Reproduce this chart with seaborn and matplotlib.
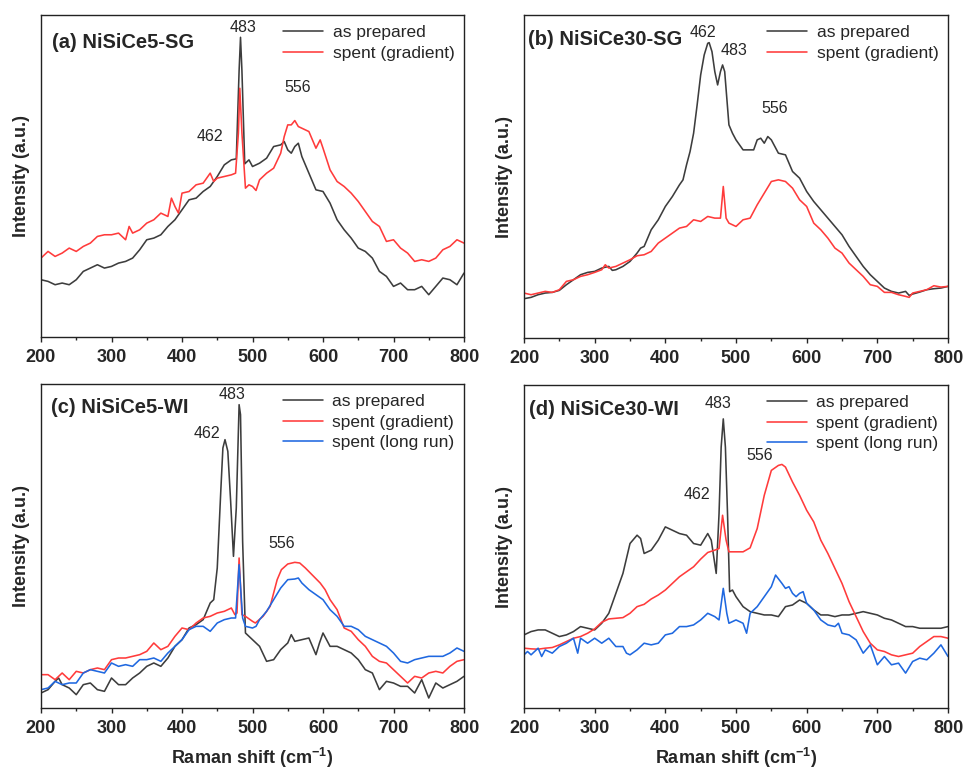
import matplotlib
matplotlib.use("Agg")
import matplotlib.pyplot as plt
import seaborn as sns
import pandas as pd
from matplotlib.ticker import MultipleLocator

# ---------------- data (intensity in arbitrary units) ----------------
# (a) NiSiCe5-SG
a_prep_x = [200,210,220,230,240,250,260,270,280,290,300,310,320,330,340,350,360,370,380,390,400,410,420,430,440,450,460,470,477,481,483,485,489,495,500,510,520,530,540,545,550,555,560,565,570,580,590,600,610,620,630,640,650,660,670,680,690,700,710,720,730,740,750,760,770,780,790,800]
a_prep_y = [172,167,157,162,157,172,197,207,217,207,212,222,227,237,262,292,297,307,332,352,382,412,417,437,452,482,517,532,535,800,900,800,520,532,512,522,537,572,577,587,562,552,572,582,542,492,442,437,402,352,322,297,267,257,237,197,182,152,162,142,142,152,127,152,177,172,157,192]
a_grad_x = [200,205,210,220,230,240,250,260,270,280,290,300,310,320,325,330,340,350,360,370,380,385,390,395,400,410,420,430,440,445,450,460,470,476,480,482,485,490,495,500,505,510,520,530,540,545,550,555,560,565,570,580,590,596,600,610,620,630,640,650,660,670,680,690,700,710,720,730,740,750,760,770,780,790,800]
a_grad_y = [237,247,257,242,252,267,257,272,282,302,307,307,312,292,332,312,322,342,352,372,362,417,392,372,432,437,457,462,492,467,477,482,487,492,612,747,612,447,457,452,440,472,492,507,552,602,637,637,650,632,627,617,567,592,567,502,467,452,432,407,377,347,332,287,292,267,252,227,232,227,237,262,272,292,282]

# (b) NiSiCe30-SG
b_prep_x = [200,210,220,230,240,250,260,270,280,290,300,310,320,325,330,340,350,360,365,370,380,390,400,410,420,425,430,435,440,445,450,455,460,462,466,470,474,478,481,484,487,490,495,500,510,520,525,530,535,540,545,550,560,570,580,590,600,610,620,630,640,650,660,670,680,690,700,710,720,730,740,745,750,760,770,780,790,800]
b_prep_y = [118,122,130,135,137,143,160,175,190,197,200,210,215,203,205,215,230,255,270,275,325,355,395,425,460,475,520,560,615,700,790,850,885,887,860,800,760,800,820,800,720,640,615,595,565,565,565,595,600,585,605,595,555,550,500,480,440,410,385,360,335,310,275,245,215,190,170,150,140,135,140,128,132,138,145,148,150,155]
b_grad_x = [200,210,220,230,240,250,260,270,280,290,300,310,315,320,330,340,350,360,370,380,390,400,410,420,430,440,450,460,470,478,482,486,490,495,500,510,520,530,540,550,560,570,580,590,600,610,620,630,640,650,660,670,680,690,700,710,720,730,740,745,750,760,770,780,790,800]
b_grad_y = [135,130,135,140,137,145,170,175,185,190,197,205,220,210,215,225,235,247,250,260,285,300,315,330,335,355,350,365,360,360,455,360,345,340,335,355,360,400,435,470,475,470,450,415,395,345,325,300,270,255,225,205,185,160,155,137,137,130,125,122,135,140,145,157,153,155]

# (c) NiSiCe5-WI
c_prep_x = [200,210,220,225,230,240,250,260,270,280,290,300,310,320,330,340,350,360,370,380,390,400,410,420,430,440,445,450,455,458,461,465,469,473,477,481,483,486,490,495,500,510,520,530,540,550,555,560,570,580,590,595,600,610,620,630,640,650,660,670,680,690,700,710,720,730,740,750,760,770,780,790,800]
c_prep_y = [45,55,80,90,70,60,40,70,75,55,50,90,70,70,90,105,125,135,125,150,185,205,240,250,265,315,325,420,650,780,805,770,620,455,600,910,880,500,225,215,205,185,140,145,175,195,220,200,205,210,160,195,225,185,185,175,165,145,115,105,55,80,75,65,65,45,85,30,75,60,70,80,95]
c_grad_x = [200,210,220,230,240,250,260,270,280,290,300,310,320,330,340,350,360,370,380,390,400,410,420,430,440,450,460,470,475,478,481,485,490,500,504,515,525,535,541,550,560,567,575,582,596,603,610,620,630,640,650,660,670,680,690,700,710,720,730,740,750,760,770,780,790,800]
c_grad_y = [100,100,85,105,85,110,105,115,120,115,145,150,150,155,160,170,195,175,185,215,240,235,255,270,275,285,290,300,280,285,450,280,275,260,255,275,305,385,415,432,437,435,420,405,375,355,325,295,240,230,205,185,155,140,135,115,95,75,95,90,105,110,105,125,140,145]
c_long_x = [200,210,220,230,240,250,260,270,280,290,300,310,320,330,340,350,360,370,380,390,400,410,420,430,440,450,460,470,476,481,486,490,500,505,510,520,530,540,550,560,565,570,580,590,600,610,620,630,640,650,660,670,680,690,700,710,720,730,740,750,760,770,780,790,800]
c_long_y = [55,60,80,70,75,75,105,115,110,105,135,125,130,125,145,145,150,140,165,185,205,235,245,245,230,255,265,270,270,430,270,245,240,245,265,290,325,360,385,387,390,375,355,340,325,295,275,245,245,235,215,205,195,185,165,140,135,145,150,155,155,155,165,180,170]

# (d) NiSiCe30-WI
d_prep_x = [200,210,220,230,240,250,260,270,280,290,300,310,320,330,340,350,360,365,370,380,390,400,410,420,430,440,450,460,465,472,476,479,482,485,488,491,495,500,510,520,530,540,550,560,570,580,590,600,610,620,630,640,650,660,670,680,690,700,710,720,730,740,750,760,770,780,790,800]
d_prep_y = [220,230,235,235,225,215,220,230,245,240,235,255,285,345,405,495,520,510,465,475,505,545,535,525,520,495,490,525,505,405,585,785,870,785,585,350,355,335,305,290,285,280,280,275,305,310,325,315,295,280,280,275,280,280,285,290,285,280,270,265,255,245,245,240,240,240,240,245]
d_grad_x = [200,210,220,230,240,250,260,270,280,290,300,310,320,330,340,350,360,370,380,390,400,410,420,430,440,450,460,470,476,481,486,490,500,510,520,530,540,550,560,565,570,580,590,600,610,620,630,640,650,660,670,680,690,700,710,720,730,740,750,760,770,780,790,800]
d_grad_y = [180,178,177,180,182,190,200,210,215,225,238,258,268,270,272,285,305,312,328,340,355,375,395,410,425,448,468,475,480,580,505,470,470,470,482,540,640,715,730,733,725,680,640,595,560,505,465,420,375,320,275,230,195,175,170,160,155,160,165,185,200,215,215,210]
d_long_x = [200,205,210,220,225,230,240,250,260,270,276,280,290,300,310,320,330,340,345,350,360,370,380,390,400,410,420,430,440,450,460,470,476,482,487,490,500,510,515,520,530,540,550,556,565,570,575,580,585,590,595,600,610,620,630,640,645,650,660,670,680,690,700,710,720,730,740,750,760,770,780,790,800]
d_long_y = [160,170,160,180,155,175,165,185,195,210,165,210,195,210,195,210,185,185,165,160,175,195,190,195,220,225,245,245,250,265,285,275,265,360,285,255,265,255,225,285,305,335,365,400,375,360,365,345,335,345,350,315,295,265,250,245,255,225,220,205,165,190,130,155,130,135,105,140,150,145,165,190,155]

series_labels = ["as prepared", "spent (gradient)", "spent (long run)"]
panel_titles = ["(a) NiSiCe5-SG", "(b) NiSiCe30-SG", "(c) NiSiCe5-WI", "(d) NiSiCe30-WI"]
peak_labels = ["462", "483", "556"]

# ---------------- style ----------------
sns.set_style("ticks")
plt.rcParams["font.family"] = ["Liberation Sans", "DejaVu Sans"]
plt.rcParams["mathtext.fontset"] = "custom"
plt.rcParams["mathtext.rm"] = "Liberation Sans:bold"
plt.rcParams["mathtext.default"] = "rm"

colors = ["#3d3d3d", "#ff3b3b", "#1f68e0"]

fig = plt.figure(figsize=(9.63, 7.69), dpi=100)
W, H = 963, 769
rects_px = [(41, 15, 464, 337), (524, 15, 948, 338), (41, 384, 464, 708), (524, 385, 948, 708)]
ylims = [967, 970, 972, 972]

panels = [
    [(a_prep_x, a_prep_y), (a_grad_x, a_grad_y)],
    [(b_prep_x, b_prep_y), (b_grad_x, b_grad_y)],
    [(c_prep_x, c_prep_y), (c_grad_x, c_grad_y), (c_long_x, c_long_y)],
    [(d_prep_x, d_prep_y), (d_grad_x, d_grad_y), (d_long_x, d_long_y)],
]
# peak annotation positions (x, y) for 462, 483, 556
annot_pos = [
    [(440, 602), (486, 930), (564, 750)],
    [(453, 918), (497, 862), (555, 688)],
    [(435, 823), (471, 940), (541, 492)],
    [(445, 643), (475, 915), (533, 760)],
]
title_pos = [(0.026, 0.916), (0.01, 0.923), (0.024, 0.926), (0.012, 0.923)]

for i, (l, t, r, b) in enumerate(rects_px):
    ax = fig.add_axes([l / W, 1 - b / H, (r - l) / W, (b - t) / H])
    for j, (xs, ys) in enumerate(panels[i]):
        df = pd.DataFrame({"x": xs, "y": ys})
        sns.lineplot(data=df, x="x", y="y", ax=ax, color=colors[j], lw=1.15,
                     label=series_labels[j], estimator=None, sort=False)
    ax.set_xlim(200, 800)
    ax.set_ylim(0, ylims[i])
    ax.xaxis.set_major_locator(MultipleLocator(100))
    ax.xaxis.set_minor_locator(MultipleLocator(50))
    ax.set_yticks([])
    ax.tick_params(axis="x", which="major", direction="out", length=3.6, width=1.0,
                   pad=5.3, labelsize=13)
    ax.tick_params(axis="x", which="minor", direction="out", length=2.2, width=1.0)
    for lab in ax.get_xticklabels():
        lab.set_fontweight("bold")
    for sp in ax.spines.values():
        sp.set_visible(True)
        sp.set_linewidth(1.0)
        sp.set_color("#222222")
    ax.set_ylabel("Intensity (a.u.)", fontsize=13, fontweight="bold")
    ax.yaxis.set_label_coords(-11 / (r - l), 0.5)
    if i >= 2:
        ax.set_xlabel(r"Raman shift (cm$^{-1}$)", fontsize=13, fontweight="bold")
        ax.xaxis.set_label_coords(0.5, -0.118)
    else:
        ax.set_xlabel("")
    ax.text(title_pos[i][0], title_pos[i][1], panel_titles[i], transform=ax.transAxes,
            fontsize=14.5, fontweight="bold", ha="left", va="center")
    for k, (px, py) in enumerate(annot_pos[i]):
        ax.text(px, py, peak_labels[k], fontsize=11.5, ha="center", va="center")
    ax.legend(loc="upper right", bbox_to_anchor=(1.0, 1.0), frameon=False,
              fontsize=12.5, handlelength=2.3, handletextpad=0.55,
              labelspacing=0.33, borderaxespad=0.2, borderpad=0.35)

fig.savefig("out.png", dpi=100)
